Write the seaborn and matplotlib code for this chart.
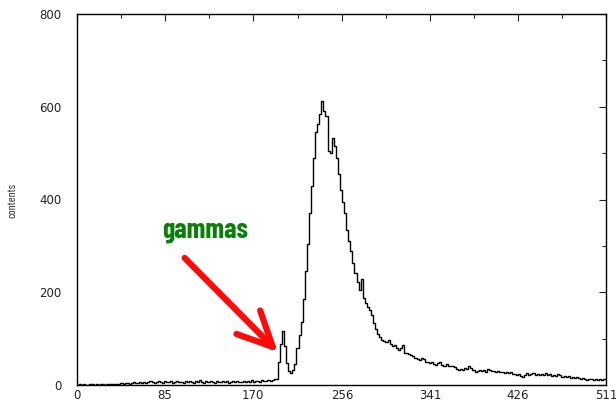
import numpy as np
import pandas as pd
import matplotlib
matplotlib.use("Agg")
import matplotlib.pyplot as plt
import seaborn as sns
from matplotlib.ticker import MultipleLocator, FixedLocator

# ---- data: counts per 2-channel bin (channels 0..511) ----
counts_low = [1,2,1,2,1,1,2,2,1,2,1,2,2,1,2,3,2,2,3,2]                       # ch 0-39
counts_mid = [3,4,3,5,4,3,5,6,4,5,6,5,7,5,6,8,6,5,7,9,6,5,8,6,7,9,5,7,8,6]   # ch 40-99
counts_pre = [7,5,8,6,9,6,5,8,7,10,6,5,8,6,9,7,5,8,6,7,9,6,8,5,7,9,6,8,7,6,
              9,7,8,6,10,7,8,9,7,10,8,9,11,9,10,12]                          # ch 100-191
counts_peak = [12,50,88,116,84,48,30,26,32,46,80,108,135,185,245,305,370,430,490,545,
               562,585,612,590,580,505,500,532,515,490,455,420]               # ch 192-255
counts_tail = [395,370,335,310,290,262,242,222,205,228,
               187,176,168,162,150,133,120,110,104,98,
               95,92,96,88,84,86,79,75,80,86,
               70,68,66,64,63,58,57,54,58,55,
               50,49,47,50,45,43,47,50,44,42,
               46,41,40,42,38,34,32,35,33,37,
               35,40,36,33,29,31,33,30,32,28,
               34,33,30,31,29,30,27,29,26,28,
               25,27,24,23,22,24,20,18,22,25,
               21,24,25,22,23,21,24,22,25,21,
               23,20,22,19,23,21,18,20,17,19,
               16,18,15,17,16,14,15,12,11,13,
               12,11,13,10,12,11,13,12]                                       # ch 256-511
x_ticks = [0, 85, 170, 256, 341, 426, 511]
x_tick_labels = ["0", "85", "170", "256", "341", "426", "511"]
y_ticks = [0, 200, 400, 600, 800]
annotation_text = "gammas"
y_label = "contents"

counts = np.array(counts_low + counts_mid + counts_pre + counts_peak + counts_tail, dtype=float)
nbins = len(counts)
centers = np.arange(nbins) * 2.0 + 1.0
df = pd.DataFrame({"channel": centers, "count": counts})

sns.set_style("white")
plt.rcParams['font.family'] = ['DejaVu Sans']

fig = plt.figure(figsize=(6.16, 4.03), dpi=100)
ax = fig.add_axes([77/616, 18/403, 529/616, 371/403])

sns.histplot(data=df, x="channel", weights="count", binwidth=2, binrange=(0, 2 * nbins),
             element="step", fill=False, color="black", linewidth=1.0, ax=ax)

ax.set_xlim(0, 511)
ax.set_ylim(0, 800)
ax.set_xlabel("")
ax.set_ylabel("")
ax.xaxis.set_major_locator(FixedLocator(x_ticks))
ax.set_xticklabels(x_tick_labels)
ax.xaxis.set_minor_locator(FixedLocator([(a + b) / 2 for a, b in zip(x_ticks[:-1], x_ticks[1:])]))
ax.yaxis.set_major_locator(FixedLocator(y_ticks))
ax.yaxis.set_minor_locator(MultipleLocator(100))
ax.tick_params(which="both", direction="in", top=True, right=True, colors="#222222",
               labelsize=8.5, width=0.8)
ax.tick_params(which="major", length=5)
ax.tick_params(which="minor", length=3)
ax.tick_params(axis="y", pad=11)
ax.tick_params(axis="x", pad=3)
for s in ax.spines.values():
    s.set_color("black")
    s.set_linewidth(1.0)
    s.set_visible(True)

fig.text(12/616, 1 - 200/403, y_label, rotation=90, ha="center", va="center", fontsize=8.5,
         family=["Barlow Condensed", "DejaVu Sans"])

ax.annotate("", xy=(194, 71), xytext=(104, 274),
            arrowprops=dict(arrowstyle="->,head_length=2.5,head_width=1.2",
                            mutation_scale=10, color="#ff0a0a", lw=4.5,
                            shrinkA=0, shrinkB=0))
ax.text(124, 333, annotation_text, color="#0a800a", fontsize=20, fontweight="bold",
        ha="center", va="center",
        family=["Barlow Condensed", "DejaVu Sans"])

fig.savefig("out.png", dpi=100)
